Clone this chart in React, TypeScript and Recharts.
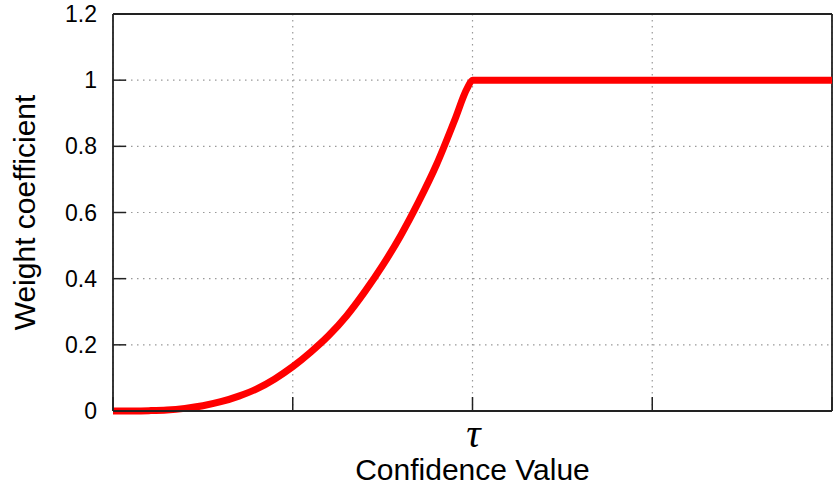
import React from "react";
import { LineChart, Line, XAxis, YAxis, CartesianGrid, ReferenceLine } from "recharts";

const confidence = [0, 0.1, 0.2, 0.3, 0.4, 0.5, 0.6, 0.7, 0.8, 0.9, 1.0, 1.1, 1.2, 1.3, 1.4, 1.5, 1.6, 1.7, 1.8, 1.9, 1.97, 2.0, 4.0];
const weight = [0, 0.0002, 0.001, 0.003, 0.008, 0.016, 0.028, 0.045, 0.067, 0.097, 0.134, 0.178, 0.228, 0.288, 0.36, 0.44, 0.53, 0.632, 0.745, 0.878, 0.975, 1, 1];

const yTicks = [0, 0.2, 0.4, 0.6, 0.8, 1.0, 1.2];
const xTicks = [0, 1, 2, 3, 4];
const xTickLabels: Record<number, string> = { 2: "τ" };

const data = confidence.map((c, i) => ({ c, w: weight[i] }));

const YTick = (props: any) => {
  const { x, y, payload } = props;
  const v = Number(payload.value);
  const label = String(Number(v.toFixed(1)));
  return (
    <g>
      <line x1={x + 16} x2={x + 29} y1={y} y2={y} stroke="#222" strokeWidth={1.5} />
      <text x={x} y={y} dy="0.35em" textAnchor="end" fontSize={23} fill="#000" fontFamily="'Liberation Sans', Arial, sans-serif">
        {label}
      </text>
    </g>
  );
};

const XTick = (props: any) => {
  const { x, y, payload } = props;
  const label = xTickLabels[payload.value] ?? "";
  return (
    <g>
      <line x1={x} x2={x} y1={y} y2={y - 14} stroke="#222" strokeWidth={1.5} />
      {label ? (
        <text x={x + 1} y={y + 36} textAnchor="middle" fontSize={40} fontStyle="italic" fill="#000" fontFamily="'Liberation Serif', 'DejaVu Serif', serif">
          {label}
        </text>
      ) : null}
    </g>
  );
};

const XLabel = (props: any) => {
  const vb = props.viewBox || {};
  return (
    <text x={vb.x + vb.width / 2} y={480} textAnchor="middle" fontSize={30} fill="#000" fontFamily="'Liberation Sans', Arial, sans-serif">
      Confidence Value
    </text>
  );
};

const YLabel = (props: any) => {
  const vb = props.viewBox || {};
  const cy = vb.y + vb.height / 2;
  return (
    <text x={35} y={cy} transform={`rotate(-90, 35, ${cy})`} textAnchor="middle" fontSize={30} fill="#000" fontFamily="'Liberation Sans', Arial, sans-serif">
      Weight coefficient
    </text>
  );
};

export default function App() {
  return (
    <div style={{ position: "absolute", left: 0, top: 0, width: 833, height: 489, background: "#fff" }}>
      <LineChart width={833} height={489} data={data} margin={{ top: 14, right: 1, bottom: 0, left: 0 }}>
        <CartesianGrid stroke="#999" strokeDasharray="1.5 4.5" strokeWidth={1.2} />
        <XAxis
          dataKey="c"
          type="number"
          domain={[0, 4]}
          ticks={xTicks}
          height={78}
          tickSize={0}
          tickMargin={0}
          tickLine={false}
          tick={<XTick />}
          axisLine={{ stroke: "#222", strokeWidth: 1.8 }}
          interval={0}
          label={<XLabel />}
        />
        <YAxis
          type="number"
          domain={[0, 1.2]}
          ticks={yTicks}
          width={113}
          tickSize={0}
          tickMargin={16}
          tickLine={false}
          tick={<YTick />}
          axisLine={{ stroke: "#222", strokeWidth: 1.8 }}
          interval={0}
          label={<YLabel />}
        />
        <ReferenceLine y={1.2} stroke="#222" strokeWidth={1.8} />
        <ReferenceLine x={4} stroke="#222" strokeWidth={1.8} />
        <Line
          dataKey="w"
          type="monotone"
          stroke="#ff0000"
          strokeWidth={7}
          dot={false}
          isAnimationActive={false}
        />
      </LineChart>
    </div>
  );
}
